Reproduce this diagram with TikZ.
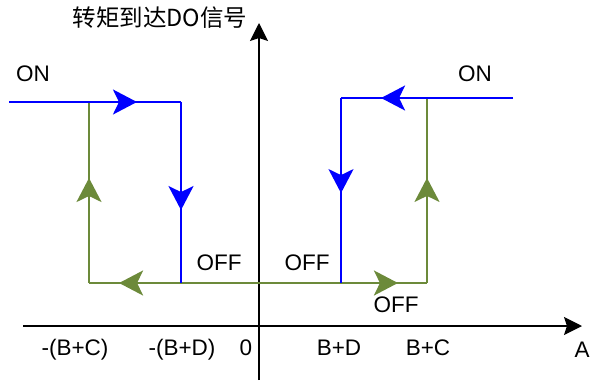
\documentclass[tikz,border=0pt]{standalone}
\usepackage{fontspec}
\setmainfont{Liberation Sans}
\newfontfamily\cjkfont{Noto Sans CJK SC}
\definecolor{OnColor}{RGB}{0,0,255}
\definecolor{OffColor}{RGB}{108,138,58}
\usepackage{tikz}
\usetikzlibrary{positioning, arrows.meta, decorations.markings}
\tikzset{
  flowtip/.tip={Stealth[length=24pt, width=25pt, inset=6pt]},
  axistip/.tip={Stealth[length=18pt, width=18pt, inset=3pt]}
}

\begin{document}
\begin{tikzpicture}[x=1pt, y=-1pt, font=\fontsize{22.5}{26}\selectfont,
    axis/.style={draw=black, line width=1.2pt, -axistip},
    onpath/.style={color=OnColor, line width=2pt},
    offpath/.style={color=OffColor, line width=2pt},
    flowat/.style={postaction={decorate}, decoration={markings, mark=at position #1 with {\arrow{flowtip}}}},
    flowboth/.style 2 args={postaction={decorate}, decoration={markings,
        mark=at position #1 with {\arrowreversed{flowtip}},
        mark=at position #2 with {\arrow{flowtip}}}},
    lbl/.style={anchor=base, inner sep=0pt}]
  \useasboundingbox (0,0) rectangle (592,381);

  \coordinate (ybot) at (259,380);
  \coordinate (ytop) at (259,23);
  \coordinate (xleft) at (23,326);
  \coordinate (xright) at (582,326);
  \draw[axis] (ybot) -- (ytop);
  \draw[axis] (xleft) -- (xright);

  \coordinate (onL) at (9,102);
  \coordinate (dropL) at (181,102);
  \coordinate (lowL) at (181,283);
  \coordinate (riseL) at (89,102);
  \coordinate (baseL) at (89,283);
  \coordinate (onR) at (513,98);
  \coordinate (dropR) at (341,98);
  \coordinate (lowR) at (341,283);
  \coordinate (riseR) at (427,98);
  \coordinate (baseR) at (427,283);

  \draw[offpath, flowat=0.58] (baseL) -- (riseL);
  \draw[offpath, flowat=0.568] (baseR) -- (riseR);
  \draw[offpath, flowboth={0.089}{0.914}] (baseL) -- (baseR);

  \draw[onpath, flowat=0.744] (onL) -- (dropL);
  \draw[onpath, flowat=0.597] (dropL) -- (lowL);
  \draw[onpath, flowat=0.767] (onR) -- (dropR);
  \draw[onpath, flowat=0.514] (dropR) -- (lowR);

  \node[lbl] (title) at (160,26) {\cjkfont\fontsize{23.5}{26}\selectfont 转矩到达DO信号};
  \node[lbl] (onleft) at (33,81) {ON};
  \node[lbl] (onright) at (475,81) {ON};
  \node[lbl] (offleft) at (219,270) {OFF};
  \node[lbl] (offmid) at (307,270) {OFF};
  \node[lbl] (offright) at (396,312) {OFF};

  \node[lbl] (negBC) at (75,355) {-(B+C)};
  \node[lbl] (negBD) at (182,355) {-(B+D)};
  \node[lbl] (zero) at (246,355) {0};
  \node[lbl] (posBD) at (339,355) {B+D};
  \node[lbl] (posBC) at (428,355) {B+C};
  \node[lbl] (axisA) at (582,357) {A};
\end{tikzpicture}
\end{document}
